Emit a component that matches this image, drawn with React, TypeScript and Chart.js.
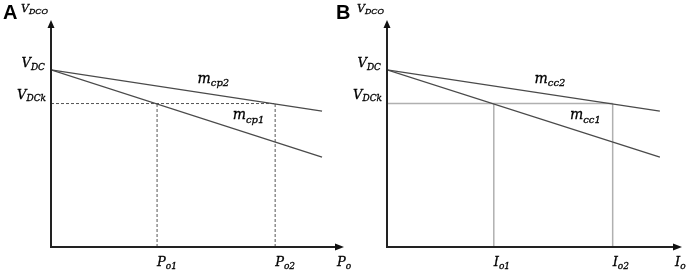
import React, { useEffect, useRef } from "react";
import { Chart, registerables } from "chart.js";
Chart.register(...registerables);

// ---- data (axis units: 0..10 on both axes) ----
const vDC = 7.8;          // no-load voltage V_DC
const vDCk = 6.32;        // knee voltage V_DCk
const xKnee = [3.62, 7.65];   // P_o1 / P_o2  (I_o1 / I_o2)
const steepLineX = [0, 9.25];
const steepLineY = [7.8, 3.96];   // m_cp1 / m_cc1
const flatLineX = [0, 9.25];
const flatLineY = [7.8, 5.99];    // m_cp2 / m_cc2

const panelA = {
  letter: "A",
  xName: ["P", "o"],
  kneeNames: [["P", "o1"], ["P", "o2"]],
  lineNames: [["m", "cp1"], ["m", "cp2"]],
};
const panelB = {
  letter: "B",
  xName: ["I", "o"],
  kneeNames: [["I", "o1"], ["I", "o2"]],
  lineNames: [["m", "cc1"], ["m", "cc2"]],
};

const MATH = '"DejaVu Serif"';

function subText(ctx: CanvasRenderingContext2D, main: string, sub: string, x: number, y: number, ms: number, ss: number, align: "left" | "right") {
  ctx.save();
  ctx.fillStyle = "#000";
  ctx.strokeStyle = "#000";
  ctx.lineWidth = 0.3;
  ctx.textBaseline = "alphabetic";
  ctx.textAlign = "left";
  ctx.font = `italic ${ms}px ${MATH}`;
  const mw = ctx.measureText(main).width;
  ctx.font = `italic ${ss}px ${MATH}`;
  const sw = ctx.measureText(sub).width;
  const x0 = align === "left" ? x : x - mw - sw;
  ctx.font = `italic ${ms}px ${MATH}`;
  ctx.fillText(main, x0, y);
  ctx.strokeText(main, x0, y);
  ctx.font = `italic ${ss}px ${MATH}`;
  ctx.fillText(sub, x0 + mw, y + ms * 0.22);
  ctx.strokeText(sub, x0 + mw, y + ms * 0.22);
  ctx.restore();
}

function makePlugin(panel: typeof panelA, letterOffset: number) {
  return {
    id: "schematic" + panel.letter,
    afterDatasetsDraw(chart: any) {
      const ctx: CanvasRenderingContext2D = chart.ctx;
      const { left, right, top, bottom } = chart.chartArea;
      const xs = chart.scales.x;
      const ys = chart.scales.y;
      // axes
      ctx.save();
      ctx.strokeStyle = "#222";
      ctx.fillStyle = "#111";
      ctx.lineWidth = 2;
      ctx.beginPath();
      ctx.moveTo(left, bottom);
      ctx.lineTo(left, top + 7);
      ctx.moveTo(left - 1, bottom);
      ctx.lineTo(right - 7, bottom);
      ctx.stroke();
      ctx.beginPath();
      ctx.moveTo(left, top);
      ctx.lineTo(left - 3.5, top + 8);
      ctx.lineTo(left + 3.5, top + 8);
      ctx.closePath();
      ctx.fill();
      ctx.beginPath();
      ctx.moveTo(right, bottom);
      ctx.lineTo(right - 9, bottom - 3.5);
      ctx.lineTo(right - 9, bottom + 3.5);
      ctx.closePath();
      ctx.fill();
      ctx.restore();

      // panel letter
      ctx.save();
      ctx.fillStyle = "#000";
      ctx.font = 'bold 20px "Liberation Sans"';
      ctx.textAlign = "left";
      ctx.textBaseline = "alphabetic";
      ctx.fillText(panel.letter, left - letterOffset, 19);
      ctx.restore();

      // y labels
      subText(ctx, "V", "DCO", left - 3, 12, 11, 8, "right");
      subText(ctx, "V", "DC", left - 6, ys.getPixelForValue(vDC) - 3, 13, 9, "right");
      subText(ctx, "V", "DCk", left - 5, ys.getPixelForValue(vDCk) - 5, 13, 9, "right");
      // x labels
      const by = bottom + 19;
      panel.kneeNames.forEach((n, i) => {
        subText(ctx, n[0], n[1], xs.getPixelForValue(xKnee[i]), by, 13, 9, "left");
      });
      subText(ctx, panel.xName[0], panel.xName[1], right - 7, by, 13, 9, "left");
      // line labels
      subText(ctx, panel.lineNames[1][0], panel.lineNames[1][1], xs.getPixelForValue(5.0), ys.getPixelForValue(7.22), 14, 10, "left");
      subText(ctx, panel.lineNames[0][0], panel.lineNames[0][1], xs.getPixelForValue(6.2), ys.getPixelForValue(5.62), 14, 10, "left");
    },
  };
}

function Panel({ panel, dashed, width, padLeft, padRight, letterOffset }: { panel: typeof panelA; dashed: boolean; width: number; padLeft: number; padRight: number; letterOffset: number }) {
  const ref = useRef<HTMLCanvasElement>(null);
  useEffect(() => {
    const guideStyle = dashed
      ? { borderColor: "#555", borderWidth: 1, borderDash: [3, 2] }
      : { borderColor: "#b0b0b0", borderWidth: 1.5, borderDash: [] as number[] };
    const guide = (pts: { x: number; y: number }[]) => ({
      data: pts,
      showLine: true,
      pointRadius: 0,
      fill: false,
      ...guideStyle,
    });
    const line = (xs: number[], ys: number[]) => ({
      data: xs.map((x, i) => ({ x, y: ys[i] })),
      showLine: true,
      pointRadius: 0,
      fill: false,
      borderColor: "#4a4a4a",
      borderWidth: 1.3,
    });
    const chart = new Chart(ref.current!, {
      type: "scatter",
      data: {
        datasets: [
          line(steepLineX, steepLineY),
          line(flatLineX, flatLineY),
          guide([{ x: 0, y: vDCk }, { x: xKnee[1], y: vDCk }]),
          guide([{ x: xKnee[0], y: 0 }, { x: xKnee[0], y: vDCk }]),
          guide([{ x: xKnee[1], y: 0 }, { x: xKnee[1], y: vDCk }]),
        ] as any,
      },
      options: {
        animation: false,
        responsive: false,
        events: [],
        layout: { padding: { left: padLeft, right: padRight, top: 20, bottom: 23 } },
        plugins: { legend: { display: false }, tooltip: { enabled: false } },
        scales: {
          x: { type: "linear", min: 0, max: 10, display: false },
          y: { type: "linear", min: 0, max: 10, display: false },
        },
      },
      plugins: [makePlugin(panel, letterOffset)],
    });
    return () => chart.destroy();
  }, []);
  return <canvas ref={ref} width={width} height={270} style={{ width, height: 270, display: "block" }} />;
}

export default function App() {
  useEffect(() => {
    document.body.style.margin = "0";
  }, []);
  return (
    <div style={{ position: "relative", width: 689, height: 270, background: "#fff", overflow: "hidden" }}>
      <div style={{ position: "absolute", left: 0, top: 0 }}>
        <Panel panel={panelA} dashed={true} width={362} padLeft={51} padRight={18} letterOffset={48} />
      </div>
      <div style={{ position: "absolute", left: 330, top: 0 }}>
        <Panel panel={panelB} dashed={false} width={359} padLeft={57} padRight={7} letterOffset={51} />
      </div>
    </div>
  );
}
